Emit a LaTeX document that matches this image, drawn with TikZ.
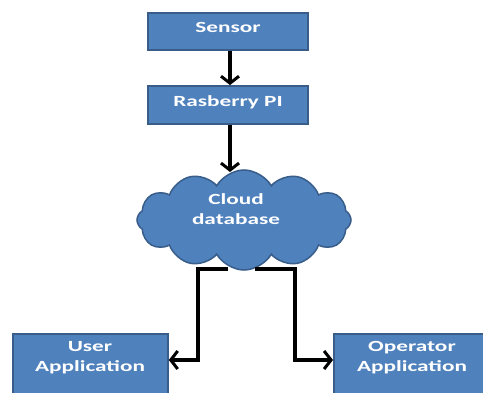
\documentclass[tikz,border=0pt]{standalone}
\usepackage{fontspec}
\setmainfont{Carlito}
\usetikzlibrary{shapes.symbols,arrows.meta}
\definecolor{boxblue}{HTML}{4F81BD}
\definecolor{boxedge}{HTML}{385D8A}
\newcommand{\wtx}[1]{\scalebox{1.5}[1]{\begin{tabular}{@{}c@{}}#1\end{tabular}}}
\tikzset{
  blk/.style={draw=boxedge, line width=1.8pt, fill=boxblue, inner sep=0pt},
  lbl/.style={text=white, font=\bfseries\fontsize{15.5}{20}\selectfont, inner sep=0pt},
  conn/.style={line width=3.8pt, black, -{Straight Barb[length=7pt,width=18pt,line width=3pt]}},
}
\begin{document}
\begin{tikzpicture}[x=1pt,y=-1pt]
\useasboundingbox (0,0) rectangle (483,393);
\clip (0,0) rectangle (483,393);
\fill[white] (0,0) rectangle (483,393);
% boxes
\node[blk, minimum width=160pt, minimum height=37pt] (sensor) at (228,31.5) {};
\node[lbl] (sensort) at (228,29) {\wtx{Sensor}};
\node[blk, minimum width=160pt, minimum height=38pt] (pi) at (228,105) {};
\node[lbl] (pit) at (228,103) {\wtx{Rasberry PI}};
\node[cloud, cloud puffs=12, cloud puff arc=120, aspect=2.2, draw=boxedge, line width=1.5pt, fill=boxblue, minimum width=214pt, minimum height=100pt, inner sep=0pt] (cloud) at (244,220) {};
\node[lbl] (cloudt) at (236,211) {\wtx{Cloud\\database}};
\node[blk, minimum width=155pt, minimum height=80pt, anchor=north west] (user) at (12,333) {};
\node[lbl] (usert) at (90,358) {\wtx{User\\Application}};
\node[blk, minimum width=160pt, minimum height=80pt, anchor=north west] (oper) at (333,333) {};
\node[lbl] (opert) at (412,358) {\wtx{Operator\\Application}};
% connectors
\coordinate (ctop) at (230,172);
\coordinate (cbl) at (228,269);
\coordinate (cbr) at (255,269);
\draw[conn] (sensor.south -| 230,0) -- (pi.north -| 230,0);
\draw[conn] (pi.south -| 230,0) -- (ctop);
\draw[conn] (cbl) -- (198,269) -- (198,360) -- (user.east |- 0,360);
\draw[conn] (cbr) -- (295,269) -- (295,360) -- (oper.west |- 0,360);
\end{tikzpicture}
\end{document}
